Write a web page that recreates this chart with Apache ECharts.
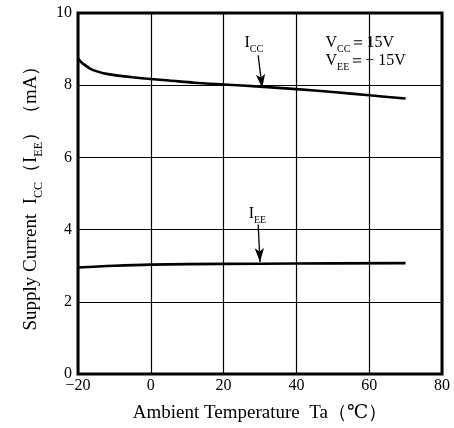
<!DOCTYPE html>
<html><head><meta charset="utf-8">
<script src="https://cdn.jsdelivr.net/npm/echarts@6/dist/echarts.min.js"></script>
<style>html,body{margin:0;padding:0;background:#fff}#c{width:454px;height:428px}</style>
</head><body><div id="c"></div>
<script>
var xTicks = [-20, 0, 20, 40, 60, 80];
var yTicks = [0, 2, 4, 6, 8, 10];
var iccTemp = [-20, -19, -18, -16.7, -15, -13, -10, -5, 0, 5, 12, 20, 30, 40, 50, 60, 70];
var iccVal  = [8.74, 8.63, 8.55, 8.46, 8.39, 8.33, 8.28, 8.22, 8.17, 8.13, 8.07, 8.02, 7.96, 7.89, 7.81, 7.72, 7.63];
var ieeTemp = [-20, -10, 0, 20, 40, 70];
var ieeVal  = [2.95, 3.0, 3.03, 3.05, 3.06, 3.07];
var iccArrow = [[29.5, 8.83], [30.6, 7.92]];
var ieeArrow = [[29.5, 4.14], [30.0, 3.1]];
var iccLabelPos = [28.3, 9.18];
var ieeLabelPos = [29.3, 4.45];
var condPos = [[48, 9.18], [48, 8.68]];

var serif = '"Liberation Serif","DejaVu Serif",serif';
function pairs(xs, ys){ return xs.map(function(x,i){return [x, ys[i]];}); }
var chart = echarts.init(document.getElementById('c'), null, {renderer:'canvas'});
var sub = {fontSize: 10, fontFamily: serif, color:'#000', verticalAlign:'bottom', padding:[0,0,-4,0]};
var mainTxt = {fontSize: 16, fontFamily: serif, color:'#000'};
chart.setOption({
  animation: false,
  grid: {left: 78, right: 12, top: 13, bottom: 54, show: true, borderColor: '#000', borderWidth: 3, backgroundColor:'#fff', containLabel: false, outerBoundsMode: 'none'},
  xAxis: {
    type: 'value', min: -20, max: 80, interval: 20,
    axisLine: {show: false}, axisTick: {show: false},
    splitLine: {show: true, lineStyle: {color: '#000', width: 1.2}},
    axisLabel: {fontFamily: serif, fontSize: 16, color: '#000', margin: 4,
      formatter: function(v){ return v < 0 ? '\u2212' + Math.abs(v) : String(v); }},
    name: 'Ambient Temperature  Ta\uFF08\u2103\uFF09', nameLocation: 'middle', nameGap: 30,
    nameTextStyle: {fontFamily: serif, fontSize: 19, color: '#000'}
  },
  yAxis: {
    type: 'value', min: 0, max: 10, interval: 2,
    axisLine: {show: false}, axisTick: {show: false},
    splitLine: {show: true, lineStyle: {color: '#000', width: 1.2}},
    axisLabel: {fontFamily: serif, fontSize: 16, color: '#000', margin: 6},
    name: '{m|Supply Current  I}{s|CC}{m|\uFF08I}{s|EE}{m|\uFF09\uFF08mA\uFF09}',
    nameLocation: 'middle', nameGap: 36, nameRotate: 90,
    nameTextStyle: {rich: {m: {fontSize: 19, fontFamily: serif, color:'#000'}, s: {fontSize: 12, fontFamily: serif, color:'#000', verticalAlign:'bottom', padding:[0,0,-5,0]}}}
  },
  series: [
    {type: 'line', data: pairs(iccTemp, iccVal), smooth: 0.3, showSymbol: false,
     lineStyle: {color: '#000', width: 2.6}, z: 5,
     markLine: {silent: true, symbol: ['none','arrow'], symbolSize: [7, 14],
       lineStyle: {color:'#000', width: 1.3, type: 'solid'}, label: {show:false},
       data: [[{coord: iccArrow[0]}, {coord: iccArrow[1]}]]}},
    {type: 'line', data: pairs(ieeTemp, ieeVal), smooth: 0.4, showSymbol: false,
     lineStyle: {color: '#000', width: 2.6}, z: 5,
     markLine: {silent: true, symbol: ['none','arrow'], symbolSize: [7, 14],
       lineStyle: {color:'#000', width: 1.3, type: 'solid'}, label: {show:false},
       data: [[{coord: ieeArrow[0]}, {coord: ieeArrow[1]}]]}}
  ]
});
function px(p){ return chart.convertToPixel({gridIndex:0}, p); }
var a = px(iccLabelPos), b = px(ieeLabelPos), c1 = px(condPos[0]), c2 = px(condPos[1]);
var rich = {m: mainTxt, s: sub};
chart.setOption({graphic: [
  {type:'text', x: a[0], y: a[1], style: {text: '{m|I}{s|CC}', rich: rich, align:'center', verticalAlign:'middle'}},
  {type:'text', x: b[0], y: b[1], style: {text: '{m|I}{s|EE}', rich: rich, align:'center', verticalAlign:'middle'}},
  {type:'text', x: c1[0], y: c1[1], style: {text: '{m|V}{s|CC}{m|\uFF1D15V}', rich: rich, align:'left', verticalAlign:'middle'}},
  {type:'text', x: c2[0], y: c2[1], style: {text: '{m|V}{s|EE}{m|\uFF1D\u2212 15V}', rich: rich, align:'left', verticalAlign:'middle'}}
]});
</script></body></html>
